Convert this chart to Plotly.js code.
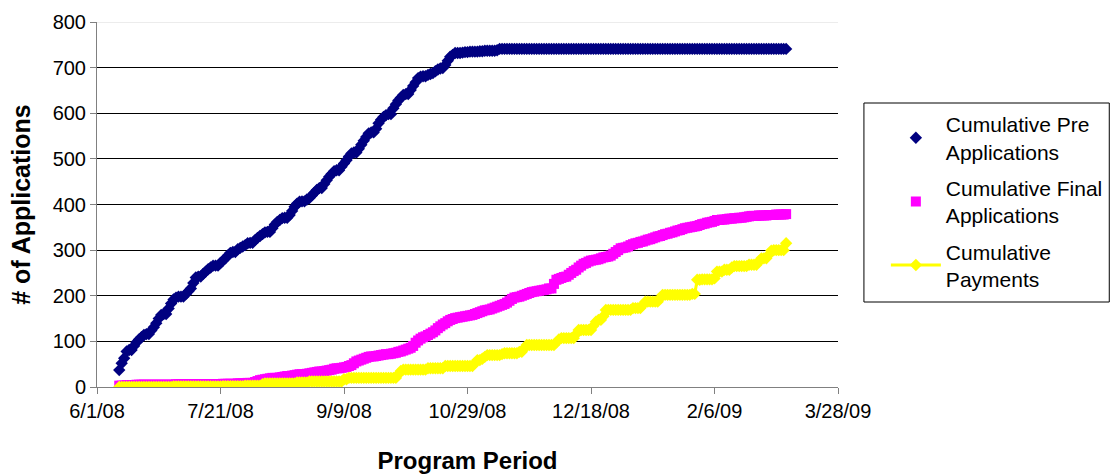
<!DOCTYPE html>
<html>
<head>
<meta charset="utf-8">
<script src="https://cdn.plot.ly/plotly-3.0.1.min.js"></script>
<style>
html,body{margin:0;padding:0;background:#fff;}
#chart{width:1120px;height:475px;}
</style>
</head>
<body>
<div id="chart"></div>
<script>
// First day of the daily series (all three series share the same daily dates)
const startDate = '2008-06-10';

// Cumulative Pre Applications (one value per day from startDate)
const preApps = [
  37,52,63,78,81,81,90,98,104,109,
  114,116,116,124,131,140,150,158,160,160,
  172,183,192,196,198,198,198,204,210,216,
  228,240,242,242,248,253,258,262,266,266,
  266,272,277,282,288,294,296,296,302,305,
  308,311,315,316,316,322,327,331,335,339,
  340,340,348,356,362,366,370,371,371,377,
  386,395,402,406,407,407,411,414,420,426,
  432,436,436,445,453,461,467,473,475,475,
  483,490,497,505,512,514,514,522,531,540,
  548,556,558,558,566,578,586,592,596,598,
  598,611,620,628,634,640,642,642,651,660,
  668,677,680,681,681,684,686,688,692,696,
  698,699,706,715,724,728,732,732,732,733,
  734,734,735,735,735,735,736,736,737,737,
  737,737,737,738,741,741,741,741,741,741,
  741,741,741,741,741,741,741,741,741,741,
  741,741,741,741,741,741,741,741,741,741,
  741,741,741,741,741,741,741,741,741,741,
  741,741,741,741,741,741,741,741,741,741,
  741,741,741,741,741,741,741,741,741,741,
  741,741,741,741,741,741,741,741,741,741,
  741,741,741,741,741,741,741,741,741,741,
  741,741,741,741,741,741,741,741,741,741,
  741,741,741,741,741,741,741,741,741,741,
  741,741,741,741,741,741,741,741,741,741,
  741,741,741,741,741,741,741,741,741,741,
  741
];

// Cumulative Final Applications
const finalApps = [
  3,3,3,4,4,4,4,5,5,5,
  5,5,5,5,5,5,5,5,5,5,
  5,5,5,6,6,6,6,6,6,6,
  6,6,6,6,6,6,6,6,6,6,
  6,6,7,7,7,7,7,7,8,8,
  8,8,9,9,9,11,13,15,16,17,
  18,19,20,20,20,21,22,23,24,24,
  25,26,27,28,28,28,29,30,31,32,
  33,34,34,35,36,37,38,40,41,41,
  42,43,44,46,48,52,56,58,60,62,
  64,66,67,67,68,69,70,71,72,72,
  73,74,75,77,78,80,82,84,86,90,
  97,102,106,109,111,114,117,120,124,129,
  133,137,140,144,147,149,151,152,153,154,
  155,156,157,158,160,162,164,166,168,169,
  170,172,174,176,178,180,182,185,189,193,
  196,197,198,200,202,204,206,208,209,210,
  211,212,213,214,216,216,226,235,237,239,
  241,242,246,250,254,257,262,266,270,272,
  275,277,278,279,280,282,284,285,286,288,
  292,296,300,304,305,306,308,311,313,315,
  316,318,319,321,323,324,326,328,330,331,
  333,335,336,338,339,341,343,344,346,348,
  349,350,351,352,353,355,357,358,360,361,
  362,364,366,366,367,367,368,369,369,370,
  370,371,371,372,373,374,375,375,375,376,
  376,376,376,377,377,377,378,378,378,378,
  379
];

// Cumulative Payments
const payments = [
  0,0,0,0,0,0,0,0,0,0,
  0,0,0,0,0,0,0,0,0,0,
  0,0,1,1,1,1,1,1,1,1,
  1,1,1,1,1,1,1,1,1,1,
  1,1,2,2,2,2,2,2,2,2,
  2,3,3,3,3,3,3,3,6,8,
  8,8,8,8,8,8,8,8,8,8,
  8,8,10,10,10,10,10,12,12,12,
  12,12,12,12,12,12,12,12,12,12,
  12,17,17,20,20,20,20,20,20,20,
  20,20,20,20,20,20,20,20,20,20,
  20,20,20,28,35,38,38,38,38,38,
  38,38,38,38,38,41,41,41,41,41,
  41,41,46,46,46,46,46,46,46,46,
  46,46,46,46,52,59,59,62,66,70,
  70,70,70,70,70,72,74,74,74,74,
  74,74,77,77,85,92,92,92,92,92,
  92,92,92,92,92,92,92,98,104,107,
  107,107,107,107,107,116,125,125,125,125,
  125,125,134,143,147,147,155,169,169,169,
  169,169,169,169,169,169,169,169,173,173,
  173,173,180,187,187,187,187,187,187,195,
  202,202,202,202,202,202,202,202,202,202,
  202,202,204,204,235,235,236,236,236,236,
  236,238,253,253,253,257,257,257,262,265,
  265,265,265,265,265,268,268,268,268,275,
  282,282,282,290,299,300,300,300,300,300,
  315
];

const seriesNames = ['Cumulative Pre<br>Applications', 'Cumulative Final<br>Applications', 'Cumulative<br>Payments'];

// X axis ticks
const xTickVals = ['2008-06-01','2008-07-21','2008-09-09','2008-10-29','2008-12-18','2009-02-06','2009-03-28'];
const xTickText = ['6/1/08','7/21/08','9/9/08','10/29/08','12/18/08','2/6/09','3/28/09'];
const yTickVals = [0,100,200,300,400,500,600,700,800];

const xTitle = 'Program Period';
const yTitle = '# of Applications';

function datesFor(n) {
  const p = startDate.split('-').map(Number);
  const out = [];
  for (let i = 0; i < n; i++) {
    out.push(new Date(Date.UTC(p[0], p[1]-1, p[2]+i)).toISOString().slice(0,10));
  }
  return out;
}

const FONT = 'Liberation Sans, Arial, sans-serif';

const traces = [
  {
    x: datesFor(preApps.length), y: preApps, name: seriesNames[0], legendgroup: 'g1',
    type: 'scatter', mode: 'markers',
    marker: {symbol: 'diamond', size: 9.5, color: '#000080'}
  },
  {
    x: datesFor(finalApps.length), y: finalApps, name: seriesNames[1], legendgroup: 'g2',
    type: 'scatter', mode: 'markers',
    marker: {symbol: 'square', size: 10, color: '#FF00FF'}
  },
  {
    x: datesFor(payments.length), y: payments, name: seriesNames[2], legendgroup: 'g3',
    type: 'scatter', mode: 'lines+markers',
    line: {color: '#FFFF00', width: 3},
    marker: {symbol: 'diamond', size: 9.5, color: '#FFFF00'}
  }
];

const layout = {
  width: 1120, height: 475,
  margin: {l: 97, r: 280, t: 22, b: 88},
  paper_bgcolor: '#ffffff', plot_bgcolor: '#ffffff',
  font: {family: FONT, size: 20, color: '#000'},
  showlegend: true,
  legend: {
    x: (888-97)/743, xanchor: 'left', y: (387-104)/365, yanchor: 'top',
    bgcolor: 'rgba(0,0,0,0)', borderwidth: 0,
    font: {family: FONT, size: 21, color: '#000'},
    itemwidth: 50, tracegroupgap: 6
  },
  xaxis: {
    type: 'date',
    range: ['2008-06-01', '2009-03-28'],
    tickmode: 'array', tickvals: xTickVals, ticktext: xTickText,
    showgrid: false, zeroline: false,
    showline: true, linecolor: '#808080', linewidth: 1,
    ticks: 'outside', ticklen: 6, tickcolor: '#808080',
    tickfont: {family: FONT, size: 20},
    title: {text: '<b>' + xTitle + '</b>', font: {family: FONT, size: 24}, standoff: 31}
  },
  yaxis: {
    range: [0, 800],
    tickmode: 'array', tickvals: yTickVals,
    showgrid: true, gridcolor: '#000000', gridwidth: 1,
    zeroline: false,
    showline: true, linecolor: '#808080', linewidth: 1,
    ticks: 'outside', ticklen: 6, tickcolor: '#808080',
    tickfont: {family: FONT, size: 20},
    title: {text: '<b>' + yTitle + '</b>', font: {family: FONT, size: 25}, standoff: 14}
  },
  shapes: [
    {type: 'line', xref: 'paper', yref: 'y', x0: 0, x1: 1, y0: 800, y1: 800,
     line: {color: '#d9d9d9', width: 1}, layer: 'above'},
    {type: 'rect', xref: 'paper', yref: 'paper',
     x0: (866-97)/743, x1: (1112-97)/743, y0: (387-302)/365, y1: (387-103)/365,
     line: {color: '#000000', width: 1}, fillcolor: 'rgba(0,0,0,0)'}
  ]
};

Plotly.newPlot('chart', traces, layout, {displayModeBar: false, staticPlot: true});
</script>
</body>
</html>
